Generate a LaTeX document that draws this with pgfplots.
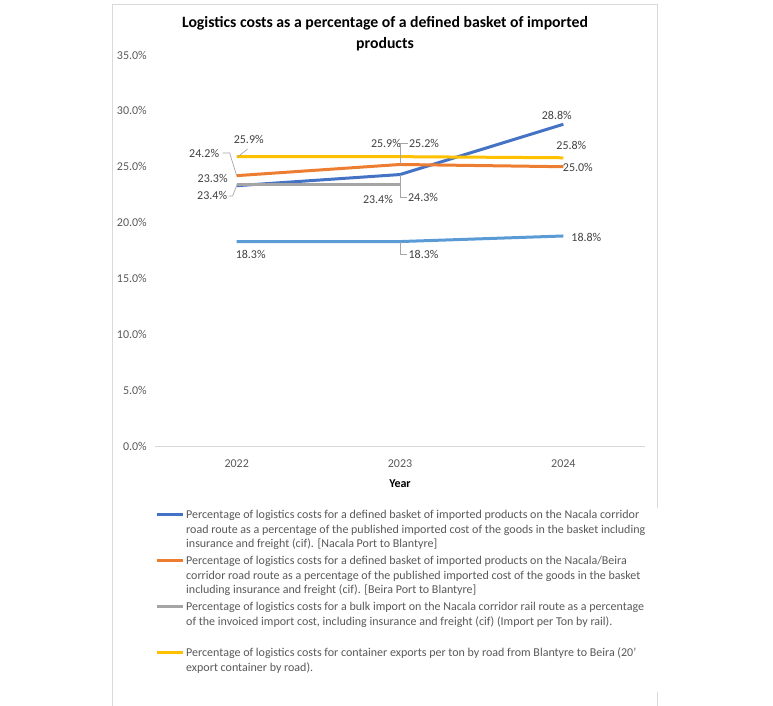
\documentclass[border=0pt]{standalone}
\usepackage{pgfplots}
\pgfplotsset{compat=1.18}
\usepackage{fontspec}
\setmainfont{Carlito}
\definecolor{sBlue}{HTML}{4472C4}
\definecolor{sOrange}{HTML}{ED7D31}
\definecolor{sGray}{HTML}{A5A5A5}
\definecolor{sYellow}{HTML}{FFC000}
\definecolor{sLight}{HTML}{5B9BD5}
\definecolor{tickgray}{HTML}{595959}
\definecolor{labgray}{HTML}{404040}
\definecolor{frame}{HTML}{D9D9D9}
\definecolor{leader}{HTML}{A6A6A6}
\begin{document}
\begin{tikzpicture}[x=1pt,y=1pt,
    lab/.style={font=\fontsize{12}{14}\selectfont, text=labgray},
    lead/.style={draw=leader, line width=0.7pt}]
\useasboundingbox (0,0) rectangle (773,705);
\draw[frame] (112,701) rectangle (657,-10);
\begin{axis}[
    at={(155pt,259pt)}, anchor=south west,
    width=490pt, height=391pt, scale only axis,
    clip=false,
    xmin=-0.5, xmax=2.5, ymin=0, ymax=35,
    xtick={0,1,2}, xticklabels={2022,2023,2024},
    ytick={0,5,...,35},
    /pgf/number format/assume math mode=true,
    yticklabel={\pgfmathprintnumber[fixed,fixed zerofill,precision=1]{\tick}\%},
    major tick length=0pt,
    axis x line*=bottom, axis y line*=left,
    x axis line style={draw=frame, line width=0.8pt, -},
    y axis line style={draw=none},
    tick label style={font=\fontsize{12}{14}\selectfont, text=tickgray, inner sep=0pt},
    yticklabel style={anchor=east, xshift=-8pt},
    xticklabel style={anchor=north, yshift=-14pt},
    xlabel={\textbf{Year}},
    xlabel style={at={(axis description cs:0.5,0)}, anchor=center, yshift=-38pt,
        font=\fontsize{12}{14}\selectfont},
    title={\textbf{Logistics costs as a percentage of a defined basket of imported}\\\textbf{products}},
    title style={at={(axis description cs:0.4694,1.0396)}, anchor=center, align=center,
        font=\fontsize{15.75}{21}\selectfont},
    legend style={at={(axis description cs:0.0,-0.1577)}, anchor=north west, draw=none,
        inner sep=0pt, row sep=0pt, column sep=0pt,
        nodes={text height=9pt, text depth=33pt},
        font=\fontsize{12}{14.5}\selectfont, text=tickgray},
    legend cell align=left,
    legend image code/.code={\draw[#1] (0pt,16pt) -- (26pt,16pt);},
    every axis plot/.append style={line width=3pt, line join=round},
]
\addplot[sBlue] coordinates {(0,23.3) (1,24.3) (2,28.8)};
\addlegendentry{\parbox[t]{480pt}{Percentage of logistics costs for a defined basket of imported products on the Nacala corridor\\road route as a percentage of the published imported cost of the goods in the basket including\\insurance and freight (cif). [Nacala Port to Blantyre]}}
\addplot[sOrange] coordinates {(0,24.2) (1,25.2) (2,25.0)};
\addlegendentry{\parbox[t]{480pt}{Percentage of logistics costs for a defined basket of imported products on the Nacala/Beira\\corridor road route as a percentage of the published imported cost of the goods in the basket\\including insurance and freight (cif). [Beira Port to Blantyre]}}
\addplot[sGray] coordinates {(0,23.4) (1,23.4)};
\addlegendentry{\parbox[t]{480pt}{Percentage of logistics costs for a bulk import on the Nacala corridor rail route as a percentage\\of the invoiced import cost, including insurance and freight (cif) (Import per Ton by rail).}}
\addplot[sYellow] coordinates {(0,25.9) (1,25.9) (2,25.8)};
\addlegendentry{\parbox[t]{480pt}{Percentage of logistics costs for container exports per ton by road from Blantyre to Beira (20'\\export container by road).}}
\addplot[sLight, forget plot] coordinates {(0,18.3) (1,18.3) (2,18.8)};

% data labels
\node[lab] at (axis cs:0.074,27.48) {25.9\%};
\draw[lead] (axis cs:0.006,25.87) -- (axis cs:0.067,26.59);
\node[lab] at (axis cs:-0.199,26.23) {24.2\%};
\draw[lead] (axis cs:-0.086,26.23) -- (axis cs:-0.043,26.23) -- (axis cs:0,24.2);
\node[lab] at (axis cs:-0.147,23.99) {23.3\%};
\node[lab] at (axis cs:-0.150,22.47) {23.4\%};
\draw[lead] (axis cs:-0.049,22.38) -- (axis cs:-0.025,22.38) -- (axis cs:0,23.3);
\node[lab] at (axis cs:0.914,27.12) {25.9\%};
\node[lab] at (axis cs:1.147,27.12) {25.2\%};
\draw[lead] (axis cs:1.049,27.12) -- (axis cs:1.0,27.12) -- (axis cs:1.0,25.2);
\node[lab] at (axis cs:0.865,22.11) {23.4\%};
\node[lab] at (axis cs:1.141,22.29) {24.3\%};
\draw[lead] (axis cs:1.043,22.29) -- (axis cs:1.0,22.29) -- (axis cs:1.0,24.3);
\node[lab] at (axis cs:1.144,17.19) {18.3\%};
\draw[lead] (axis cs:1.043,17.19) -- (axis cs:1.0,17.19) -- (axis cs:1.0,18.3);
\node[lab] at (axis cs:0.086,17.19) {18.3\%};
\node[lab] at (axis cs:1.960,29.63) {28.8\%};
\node[lab] at (axis cs:2.049,26.86) {25.8\%};
\node[lab] at (axis cs:2.089,24.89) {25.0\%};
\node[lab] at (axis cs:2.141,18.71) {18.8\%};
\end{axis}
\end{tikzpicture}
\end{document}
